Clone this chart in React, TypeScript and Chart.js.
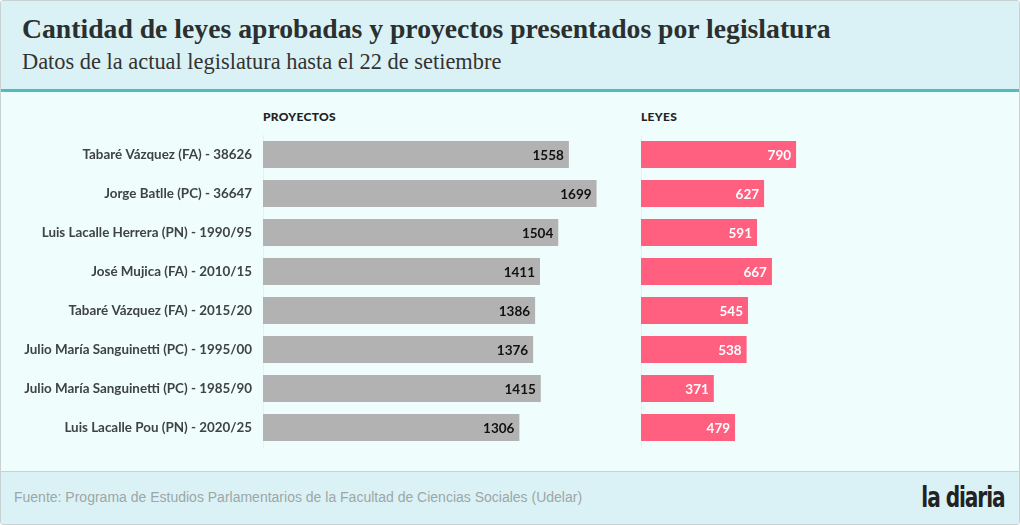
import React, { useEffect, useRef } from "react";
import { Chart, registerables } from "chart.js";

Chart.register(...registerables);

const legislaturas = [
  "Tabaré Vázquez (FA) - 38626",
  "Jorge Batlle (PC) - 36647",
  "Luis Lacalle Herrera (PN) - 1990/95",
  "José Mujica (FA) - 2010/15",
  "Tabaré Vázquez (FA) - 2015/20",
  "Julio María Sanguinetti (PC) - 1995/00",
  "Julio María Sanguinetti (PC) - 1985/90",
  "Luis Lacalle Pou (PN) - 2020/25",
];
const proyectos = [1558, 1699, 1504, 1411, 1386, 1376, 1415, 1306];
const leyes = [790, 627, 591, 667, 545, 538, 371, 479];
const panelTitles = ["PROYECTOS", "LEYES"];
const axisMax = 1900;

const title = "Cantidad de leyes aprobadas y proyectos presentados por legislatura";
const subtitle = "Datos de la actual legislatura hasta el 22 de setiembre";
const source = "Fuente: Programa de Estudios Parlamentarios de la Facultad de Ciencias Sociales (Udelar)";

const LABEL_FONT = "Lato, 'Noto Sans', sans-serif";

function valueLabels(color: string) {
  return {
    id: "valueLabels",
    afterDatasetsDraw(chart: any) {
      const ctx = chart.ctx;
      const meta = chart.getDatasetMeta(0);
      const data = chart.data.datasets[0].data;
      ctx.save();
      ctx.font = "bold 13.5px " + LABEL_FONT;
      ctx.fillStyle = color;
      ctx.textAlign = "right";
      ctx.textBaseline = "middle";
      meta.data.forEach((bar: any, i: number) => {
        ctx.fillText(String(data[i]), bar.x - 5, bar.y + 1);
      });
      ctx.restore();
    },
  };
}

function makeConfig(values: number[], color: string, labelColor: string, showLabels: boolean): any {
  return {
    type: "bar",
    data: {
      labels: legislaturas,
      datasets: [
        {
          data: values,
          backgroundColor: color,
          barPercentage: 0.69,
          categoryPercentage: 1,
        },
      ],
    },
    options: {
      indexAxis: "y",
      animation: false,
      responsive: false,
      maintainAspectRatio: false,
      layout: { padding: { top: 44, bottom: 23, left: 0, right: 0 } },
      plugins: { legend: { display: false }, tooltip: { enabled: false } },
      scales: {
        x: { min: 0, max: axisMax, display: false },
        y: {
          display: true,
          grid: { display: false, drawTicks: false },
          border: { color: "#e3f1f1" },
          ticks: {
            display: showLabels,
            padding: 11,
            color: "#3f4344",
            font: { family: LABEL_FONT, weight: "bold", size: 13.4 },
          },
          afterFit: (s: any) => {
            s.width = showLabels ? 263 : 0;
          },
        },
      },
    },
    plugins: [valueLabels(labelColor)],
  };
}

export default function App() {
  const leftRef = useRef<HTMLCanvasElement>(null);
  const rightRef = useRef<HTMLCanvasElement>(null);

  useEffect(() => {
    document.body.style.margin = "0";
    const c1 = new Chart(leftRef.current!, makeConfig(proyectos, "#b2b2b2", "#111", true));
    const c2 = new Chart(rightRef.current!, makeConfig(leyes, "#ff6080", "#ffffff", false));
    return () => {
      c1.destroy();
      c2.destroy();
    };
  }, []);

  const panelTitleStyle: React.CSSProperties = {
    position: "absolute",
    top: 108,
    fontFamily: LABEL_FONT,
    fontWeight: 900,
    fontSize: 12,
    color: "#222",
    letterSpacing: 0.3,
  };

  return (
    <div
      style={{
        position: "relative",
        width: 1020,
        height: 525,
        boxSizing: "border-box",
        border: "1px solid #c9d2d3",
        borderRadius: 3,
        background: "#effdfd",
        overflow: "hidden",
      }}
    >
      <div
        style={{
          position: "absolute",
          left: 0,
          top: 0,
          width: "100%",
          height: 88,
          background: "#daf2f5",
          borderBottom: "3px solid #4dbdc0",
        }}
      >
        <div
          style={{
            position: "absolute",
            left: 21,
            top: 12,
            fontFamily: "'Liberation Serif', serif",
            fontWeight: "bold",
            fontSize: 27.7,
            color: "#2a2f30",
            whiteSpace: "nowrap",
          }}
        >
          {title}
        </div>
        <div
          style={{
            position: "absolute",
            left: 21,
            top: 48,
            fontFamily: "'Liberation Serif', serif",
            fontSize: 22.4,
            color: "#333",
            whiteSpace: "nowrap",
          }}
        >
          {subtitle}
        </div>
      </div>

      <div style={{ ...panelTitleStyle, left: 262 }}>{panelTitles[0]}</div>
      <div style={{ ...panelTitleStyle, left: 640 }}>{panelTitles[1]}</div>

      <canvas
        ref={leftRef}
        width={636}
        height={379}
        style={{ position: "absolute", left: -1, top: 90, width: 636, height: 379 }}
      />
      <canvas
        ref={rightRef}
        width={373}
        height={379}
        style={{ position: "absolute", left: 640, top: 90, width: 373, height: 379 }}
      />

      <div
        style={{
          position: "absolute",
          left: 0,
          top: 470,
          width: "100%",
          height: 55,
          background: "#daf2f5",
          borderTop: "1px solid #c9d2d3",
        }}
      >
        <div
          style={{
            position: "absolute",
            left: 13,
            top: 17,
            fontFamily: "'Liberation Sans', Arial, sans-serif",
            fontSize: 14,
            color: "#9ea6a7",
            whiteSpace: "nowrap",
          }}
        >
          {source}
        </div>
        <div
          style={{
            position: "absolute",
            right: 14,
            top: 9,
            fontFamily: "'DejaVu Sans', sans-serif",
            fontWeight: "bold",
            fontSize: 28,
            color: "#222",
            letterSpacing: -1.5,
            whiteSpace: "nowrap",
            transform: "scaleX(0.72)",
            transformOrigin: "right center",
          }}
        >
          la diaria
        </div>
      </div>
    </div>
  );
}
